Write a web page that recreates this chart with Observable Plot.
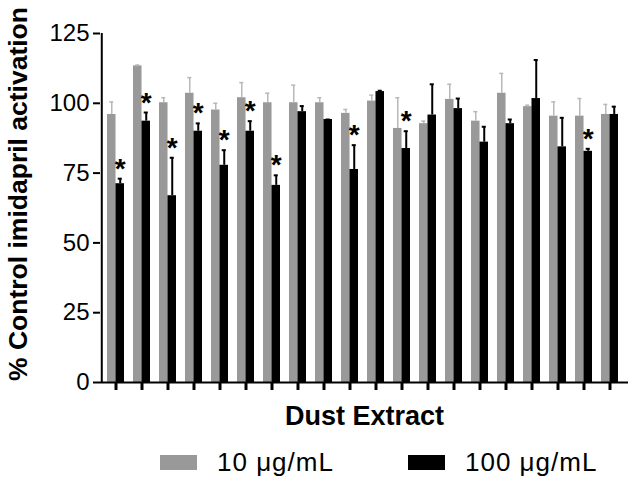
<!DOCTYPE html>
<html>
<head>
<meta charset="utf-8">
<script src="https://cdn.jsdelivr.net/npm/d3@7"></script>
<script src="https://cdn.jsdelivr.net/npm/@observablehq/plot@0.6"></script>
<style>
  html, body { margin: 0; padding: 0; background: #fff; }
  body { width: 633px; height: 489px; overflow: hidden; font-family: "Liberation Sans", Arial, sans-serif; }
  #chart svg { display: block; }
  .legend { position: relative; height: 49px; font-size: 26px; letter-spacing: 1px; color: #000; }
  .legend span { position: absolute; }
  .sw { width: 37px; height: 15px; top: 15px; }
  .lt { top: 8px; line-height: 28px; white-space: pre; }
</style>
</head>
<body>
<div id="chart"></div>
<div class="legend">
  <span class="sw" style="left:160px;background:#999999"></span>
  <span class="lt" style="left:217px">10 μg/mL</span>
  <span class="sw" style="left:408px;background:#000"></span>
  <span class="lt" style="left:465px">100 μg/mL</span>
</div>
<script>
const groups = ["E1","E2","E3","E4","E5","E6","E7","E8","E9","E10","E11","E12","E13","E14","E15","E16","E17","E18","E19","E20"];
const mean10 = [96.0,113.4,100.2,103.6,97.6,102.0,100.2,100.2,100.2,96.4,100.8,91.0,92.7,101.4,93.6,103.6,98.8,95.4,95.4,96.0];
const sd10   = [4.5,0.3,1.8,5.6,2.4,5.4,3.4,6.3,1.8,1.4,2.1,11.0,0.9,5.4,3.4,7.1,0.5,5.1,6.3,3.6];
const mean100 = [71.2,93.6,66.9,90.0,77.8,90.0,70.6,97.0,94.2,76.3,104.2,83.8,95.8,98.1,86.1,92.7,101.7,84.4,82.8,96.0];
const sd100   = [1.8,3.1,13.6,2.8,5.4,3.6,3.6,2.0,0.0,8.7,0.3,6.2,11.0,3.6,5.5,1.5,13.8,10.4,0.9,2.8];
const significant = ["E1","E2","E3","E4","E5","E6","E7","E10","E12","E19"];
const yTicks = [0,25,50,75,100,125];

const rows = groups.map((g, i) => ({
  group: g,
  m10: mean10[i], top10: mean10[i] + sd10[i],
  m100: mean100[i], top100: mean100[i] + sd100[i],
  sig: significant.includes(g)
}));

const W = 633, H = 440, mL = 100, mR = 5, mT = 33, mB = 58;
const pIn = 0.35, pOut = 0.22, inset = 4;
const step = (W - mL - mR - inset) / (groups.length - pIn + 2 * pOut);
const bw = step * (1 - pIn);
const half = bw / 2;
const capW = 4;
const c10 = half / 2, c100 = half + half / 2;
const yDomain = [0, 125];

const chart = Plot.plot({
  width: W, height: H,
  marginLeft: mL, marginRight: mR, marginTop: mT, marginBottom: mB,
  style: { fontSize: "24px", fontFamily: "'Liberation Sans', Arial, sans-serif", color: "#000", background: "#fff" },
  x: { domain: groups, paddingInner: pIn, paddingOuter: pOut, insetRight: inset, axis: null },
  y: { domain: yDomain, axis: null },
  marks: [
    Plot.axisY({ ticks: yTicks, tickSize: 7, tickPadding: 4, fontSize: 24, strokeWidth: 2, label: null }),
    Plot.axisX({ tickSize: 8, strokeWidth: 3, tickFormat: () => "", label: null }),
    // y-axis line at the left edge of the frame
    Plot.ruleX([groups[0]], { x: d => d, y1: yDomain[0], y2: yDomain[1], dx: -(step * pOut + half), stroke: "#000", strokeWidth: 2 }),
    Plot.barY(rows, { x: "group", y: "m10", fill: "#999999", insetRight: half }),
    Plot.barY(rows, { x: "group", y: "m100", fill: "#000000", insetLeft: half }),
    Plot.ruleX(rows, { x: "group", y1: "m10", y2: "top10", dx: c10 - half, stroke: "#b8b8b8", strokeWidth: 1.5 }),
    Plot.tickY(rows, { x: "group", y: "top10", stroke: "#b8b8b8", strokeWidth: 1.5, insetLeft: c10 - capW / 2, insetRight: bw - c10 - capW / 2 }),
    Plot.ruleX(rows, { x: "group", y1: "m100", y2: "top100", dx: c100 - half, stroke: "#000", strokeWidth: 2 }),
    Plot.tickY(rows, { x: "group", y: "top100", stroke: "#000", strokeWidth: 2, insetLeft: c100 - capW / 2, insetRight: bw - c100 - capW / 2 }),
    Plot.text(rows.filter(d => d.sig), { x: "group", y: "top100", text: () => "*", dx: c100 - half, dy: -1, lineAnchor: "bottom", fontSize: 28, fontWeight: "bold" }),
    Plot.ruleY([0], { stroke: "#000", strokeWidth: 2 }),
    Plot.text(["% Control imidapril activation"], { frameAnchor: "left", textAnchor: "middle", rotate: -90, dx: -82, dy: -14, fontSize: 26.5, fontWeight: "bold" }),
    Plot.text(["Dust Extract"], { frameAnchor: "bottom", dy: 42, fontSize: 27, fontWeight: "bold" })
  ]
});
document.getElementById("chart").appendChild(chart);
</script>
</body>
</html>
